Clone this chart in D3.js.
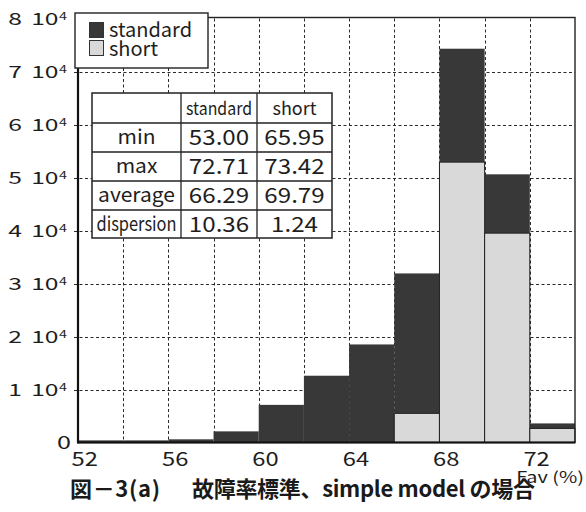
<!DOCTYPE html>
<html>
<head>
<meta charset="utf-8">
<script src="https://cdn.jsdelivr.net/npm/d3@7"></script>
<style>
  html, body { margin: 0; padding: 0; background: #fff; }
  svg { display: block; font-family: "Noto Sans CJK JP", "Noto Sans", sans-serif; }
</style>
</head>
<body>
<svg id="chart" width="586" height="512"></svg>
<script>
// Histogram of Fav (%) — bins of width 2, counts per bin
const binStarts = [52, 54, 56, 58, 60, 62, 64, 66, 68, 70, 72];
const binWidth = 2;
const standardCounts = [400, 400, 600, 2100, 7100, 12600, 18500, 31900, 74300, 50600, 3600];
const shortCounts = [0, 0, 0, 0, 0, 0, 0, 5500, 52900, 39500, 2650];

const xTicks = [52, 56, 60, 64, 68, 72];
const xGrid = [54, 56, 58, 60, 62, 64, 66, 68, 70, 72];
const yTicks = [10000, 20000, 30000, 40000, 50000, 60000, 70000, 80000];
const yGrid = [10000, 20000, 30000, 40000, 50000, 60000, 70000];

const seriesNames = ["standard", "short"];
const tableHeader = ["", "standard", "short"];
const tableRows = [
  ["min", "53.00", "65.95"],
  ["max", "72.71", "73.42"],
  ["average", "66.29", "69.79"],
  ["dispersion", "10.36", "1.24"]
];

const xLabel = "Fav (%)";
const captionHead = "図－3(a)";
const captionBody = "故障率標準、simple model の場合";

const darkFill = "#383838";
const lightFill = "#d9d9d9";
const ink = "#1e1e1e";

const svg = d3.select("#chart");
const plotLeft = 78, plotRight = 575, plotTop = 18.5, plotBottom = 442.5;

const x = d3.scaleLinear().domain([52, 74]).range([plotLeft, plotRight]);
const y = d3.scaleLinear().domain([0, 80000]).range([plotBottom, plotTop]);

// text placed at (px, py) and widened horizontally by sx
function label(parent, str, px, py, size, sx, anchor) {
  return parent.append("text")
    .attr("transform", `translate(${px},${py}) scale(${sx},1)`)
    .attr("font-size", size).attr("fill", ink)
    .attr("text-anchor", anchor || "start").text(str);
}

// dashed grid
const grid = svg.append("g").attr("stroke", "#2a2a2a").attr("stroke-width", 1)
  .attr("stroke-dasharray", "3,2.5");
grid.selectAll("line.h").data(yGrid).join("line")
  .attr("x1", plotLeft - 4).attr("x2", plotRight)
  .attr("y1", d => Math.round(y(d)) + 0.5).attr("y2", d => Math.round(y(d)) + 0.5);
grid.selectAll("line.v").data(xGrid).join("line")
  .attr("x1", d => Math.round(x(d)) + 0.5).attr("x2", d => Math.round(x(d)) + 0.5)
  .attr("y1", plotTop).attr("y2", plotBottom);

// standard bars (behind)
svg.append("g").selectAll("rect").data(binStarts).join("rect")
  .attr("x", d => x(d))
  .attr("width", d => x(d + binWidth) - x(d))
  .attr("y", (d, i) => y(standardCounts[i]))
  .attr("height", (d, i) => y(0) - y(standardCounts[i]))
  .attr("fill", darkFill);

// short bars (front, outlined)
svg.append("g").selectAll("rect").data(binStarts.filter((d, i) => shortCounts[i] > 0)).join("rect")
  .attr("x", d => x(d))
  .attr("width", d => x(d + binWidth) - x(d))
  .attr("y", d => y(shortCounts[binStarts.indexOf(d)]))
  .attr("height", d => y(0) - y(shortCounts[binStarts.indexOf(d)]))
  .attr("fill", lightFill)
  .attr("stroke", "#222").attr("stroke-width", 1);

// frame
svg.append("rect").attr("x", plotLeft).attr("y", plotTop - 1).attr("width", plotRight - plotLeft).attr("height", plotBottom - plotTop + 1)
  .attr("fill", "none").attr("stroke", "#222").attr("stroke-width", 1.4);
svg.append("line").attr("x1", plotLeft).attr("x2", plotLeft).attr("y1", plotTop).attr("y2", plotBottom + 1)
  .attr("stroke", "#111").attr("stroke-width", 2.2);
svg.append("line").attr("x1", plotLeft).attr("x2", plotRight).attr("y1", plotBottom).attr("y2", plotBottom)
  .attr("stroke", "#111").attr("stroke-width", 2);

// y tick labels: "n 10⁴"
const yl = svg.append("g");
yTicks.forEach(v => {
  const yy = y(v);
  label(yl, String(v / 10000), 22, yy + 6, 17, 1.45, "end");
  label(yl, "10", 58.5, yy + 6, 17, 1.45, "end");
  label(yl, "4", 59, yy + 1.8, 11, 1.3, "start");
});
label(yl, "0", 71, y(0) + 6.5, 18, 1.4, "end");

// x tick labels
const xl = svg.append("g");
xTicks.forEach(v => label(xl, String(v), x(v) + 6.8, 465.5, 19, 1.25, "middle"));

label(svg, xLabel, 584, 483, 15.5, 1.28, "end");

// legend
const lg = svg.append("g");
lg.append("rect").attr("x", 75).attr("y", 13).attr("width", 133).attr("height", 55)
  .attr("fill", "#fff").attr("stroke", "#222").attr("stroke-width", 1.4);
seriesNames.forEach((name, i) => {
  lg.append("rect").attr("x", 89.5).attr("y", 22.5 + i * 18).attr("width", 14).attr("height", 15)
    .attr("fill", i === 0 ? darkFill : lightFill).attr("stroke", "#333").attr("stroke-width", 1);
  lg.append("text").attr("x", 109).attr("y", 37 + i * 19).attr("font-size", 20).attr("fill", ink).text(name);
});

// statistics table
const colX = [92, 181, 257, 332];
const rowY = [93, 123, 152, 181, 210, 238];
const tb = svg.append("g");
tb.append("rect").attr("x", colX[0]).attr("y", rowY[0]).attr("width", colX[3] - colX[0]).attr("height", rowY[5] - rowY[0])
  .attr("fill", "#fff").attr("stroke", "#222").attr("stroke-width", 1.5);
colX.slice(1, 3).forEach(cx => tb.append("line").attr("x1", cx).attr("x2", cx).attr("y1", rowY[0]).attr("y2", rowY[5])
  .attr("stroke", "#222").attr("stroke-width", 1.3));
rowY.slice(1, 5).forEach(ry => tb.append("line").attr("x1", colX[0]).attr("x2", colX[3]).attr("y1", ry).attr("y2", ry)
  .attr("stroke", "#222").attr("stroke-width", 1.3));
const allRows = [tableHeader].concat(tableRows);
allRows.forEach((row, r) => {
  row.forEach((cell, c) => {
    if (!cell) return;
    const cx = (colX[c] + colX[c + 1]) / 2;
    const cy = (rowY[r] + rowY[r + 1]) / 2;
    if (r === 0) {
      const t = label(tb, cell, cx, cy + 6.5, 18, 1, "middle");
      if (cell === "standard") t.attr("textLength", 66).attr("lengthAdjust", "spacingAndGlyphs");
    } else if (c === 0) {
      const t = label(tb, cell, cx, cy + 6.5, 20, cell === "dispersion" ? 1 : 1.05, "middle");
      if (cell === "dispersion") t.attr("textLength", 80).attr("lengthAdjust", "spacingAndGlyphs");
    } else {
      label(tb, cell, cx, cy + 7.5, 21, 1.15, "middle");
    }
  });
});

// caption
const cap = svg.append("g").attr("font-size", 22).attr("font-weight", "bold").attr("fill", "#1a1a1a");
cap.append("text").attr("x", 70).attr("y", 497).attr("textLength", 90).attr("lengthAdjust", "spacing").text(captionHead);
cap.append("text").attr("x", 192).attr("y", 497).attr("textLength", 343).attr("lengthAdjust", "spacing").text(captionBody);
</script>
</body>
</html>
